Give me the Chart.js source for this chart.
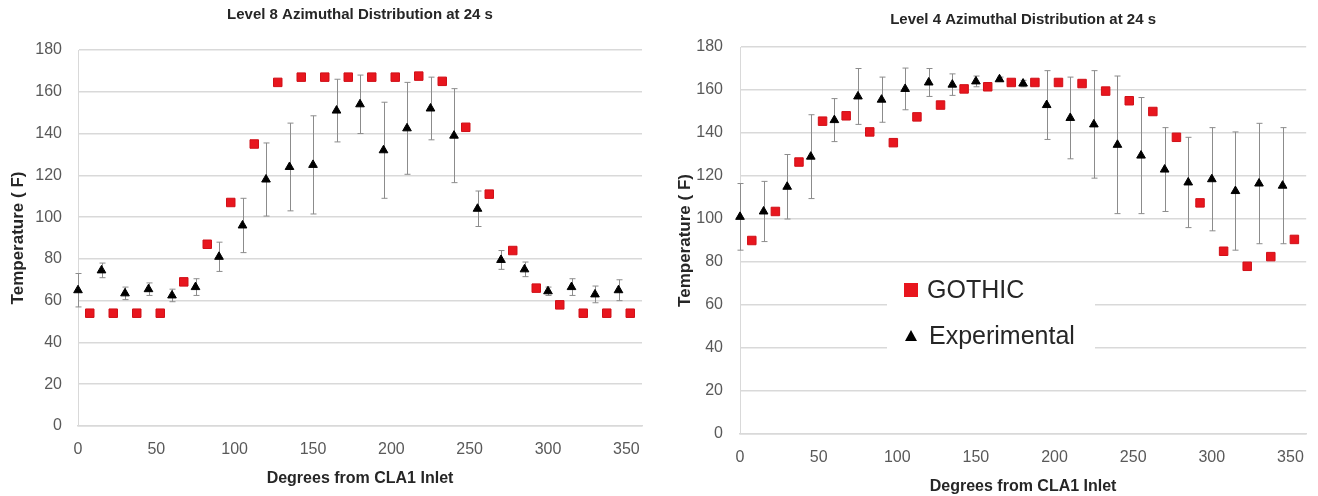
<!DOCTYPE html>
<html lang="en">
<head>
<meta charset="UTF-8">
<title>Azimuthal Distribution at 24 s</title>
<style>
  body { margin: 0; background: #fff; width: 1318px; height: 496px; overflow: hidden; position: relative; }
  canvas { position: absolute; top: 0; }
  #chartL8 { left: 0; }
  #chartL4 { left: 668px; }
</style>
</head>
<body>
<canvas id="chartL8" width="660" height="496"></canvas>
<canvas id="chartL4" width="650" height="496"></canvas>

<script src="https://cdn.jsdelivr.net/npm/chart.js"></script>
<script>
// angles (degrees from CLA1 inlet)
const gothicDeg = [7.5, 22.5, 37.5, 52.5, 67.5, 82.5, 97.5, 112.5, 127.5, 142.5, 157.5, 172.5,
                   187.5, 202.5, 217.5, 232.5, 247.5, 262.5, 277.5, 292.5, 307.5, 322.5, 337.5, 352.5];
const expDeg = [0, 15, 30, 45, 60, 75, 90, 105, 120, 135, 150, 165,
                180, 195, 210, 225, 240, 255, 270, 285, 300, 315, 330, 345];

// Level 8
const l8Gothic = [54, 54, 54, 54, 69, 87, 107, 135, 164.5, 167, 167, 167,
                  167, 167, 167.5, 165, 143, 111, 84, 66, 58, 54, 54, 54];
const l8Exp = [65, 74.5, 63.5, 65.5, 62.5, 66.5, 81, 96, 118, 124, 125, 151,
               154, 132, 142.5, 152, 139, 104, 79.5, 75, 64.5, 66.5, 63, 65];
const l8Err = [8, 3.5, 3, 3, 3, 4, 7, 13, 17.5, 21, 23.5, 15,
               14, 23, 22, 15, 22.5, 8.5, 4.5, 3.5, 2, 4, 4, 5];

// Level 4
const l4Gothic = [90, 103.5, 126.5, 145.5, 148, 140.5, 135.5, 147.5, 153, 160.5, 161.5, 163.5,
                  163.5, 163.5, 163, 159.5, 155, 150, 138, 107.5, 85, 78, 82.5, 90.5];
const l4Exp = [101, 103.5, 115, 129, 146, 157, 155.5, 160.5, 163.5, 162.5, 164, 165,
               163, 153, 147, 144, 134.5, 129.5, 123, 117, 118.5, 113, 116.5, 115.5];
const l4Err = [15.5, 14, 15, 19.5, 10, 13, 10.5, 9.7, 6.5, 5, 2.5, 1,
               1.5, 16, 19, 25, 32, 27, 19.5, 21, 24, 27.5, 28, 27];

const xTicks = [0, 50, 100, 150, 200, 250, 300, 350];

const RED = '#e8161e';
const FONT = '"Liberation Sans", Arial, sans-serif';

// title centred over the plot area
const panelTitle = {
  id: 'panelTitle',
  afterDraw(chart, args, opts) {
    const { ctx, chartArea } = chart;
    ctx.save();
    ctx.font = 'bold 15px ' + FONT;
    ctx.fillStyle = '#262626';
    ctx.textAlign = 'center';
    ctx.textBaseline = 'middle';
    ctx.fillText(opts.text, (chartArea.left + chartArea.right) / 2, opts.y);
    ctx.restore();
  }
};

// vertical error bars on the experimental series
const errorBars = {
  id: 'errorBars',
  beforeDatasetsDraw(chart, args, opts) {
    const { ctx, scales: { x, y } } = chart;
    ctx.save();
    ctx.strokeStyle = '#8c8c8c';
    ctx.lineWidth = 1;
    opts.deg.forEach((d, i) => {
      const px = Math.round(x.getPixelForValue(d)) + 0.5;
      const top = y.getPixelForValue(opts.value[i] + opts.err[i]);
      const bot = y.getPixelForValue(opts.value[i] - opts.err[i]);
      ctx.beginPath();
      ctx.moveTo(px, top); ctx.lineTo(px, bot);
      ctx.moveTo(px - 3, top); ctx.lineTo(px + 3, top);
      ctx.moveTo(px - 3, bot); ctx.lineTo(px + 3, bot);
      ctx.stroke();
    });
    ctx.restore();
  }
};

// legend box sitting inside the plot (right panel only)
const boxLegend = {
  id: 'boxLegend',
  beforeDatasetsDraw(chart, args, opts) {
    if (!opts.show) return;
    const { ctx } = chart;
    const ds = chart.data.datasets;
    const b = opts.box;
    ctx.save();
    ctx.fillStyle = '#fff';
    ctx.fillRect(b.left, b.top, b.width, b.height);

    ctx.fillStyle = RED;
    ctx.fillRect(b.left + 17, b.top + 15, 14, 14);

    ctx.fillStyle = '#000';
    ctx.beginPath();
    ctx.moveTo(b.left + 24, b.top + 62);
    ctx.lineTo(b.left + 30, b.top + 73);
    ctx.lineTo(b.left + 18, b.top + 73);
    ctx.closePath();
    ctx.fill();

    ctx.font = '25px ' + FONT;
    ctx.fillStyle = '#262626';
    ctx.textBaseline = 'middle';
    ctx.fillText(ds[0].label, b.left + 40, b.top + 23);
    ctx.fillText(ds[1].label, b.left + 42, b.top + 69);
    ctx.restore();
  }
};

function makeChart(id, c) {
  return new Chart(document.getElementById(id), {
    type: 'scatter',
    data: {
      datasets: [
        {
          label: 'GOTHIC',
          data: gothicDeg.map((d, i) => ({ x: d, y: c.gothic[i] })),
          pointStyle: 'rect',
          pointRadius: 6,
          backgroundColor: RED,
          borderColor: '#d01018',
          borderWidth: 1,
          clip: false
        },
        {
          label: 'Experimental',
          data: expDeg.map((d, i) => ({ x: d, y: c.exp[i] })),
          pointStyle: 'triangle',
          pointRadius: 5,
          backgroundColor: '#000',
          borderColor: '#000',
          borderWidth: 1,
          clip: false
        }
      ]
    },
    options: {
      responsive: false,
      animation: false,
      layout: { padding: { top: c.top, right: c.right, left: 0, bottom: 0 } },
      plugins: {
        legend: { display: false },
        tooltip: { enabled: false },
        panelTitle: { text: c.title, y: c.titleY },
        errorBars: { deg: expDeg, value: c.exp, err: c.err },
        boxLegend: { show: c.legend, box: c.legendBox }
      },
      scales: {
        x: {
          type: 'linear',
          min: 0,
          max: 360,
          afterBuildTicks: s => { s.ticks = xTicks.map(v => ({ value: v })); },
          afterFit: s => { s.height = c.xHeight; },
          ticks: { padding: 14, color: '#595959', font: { family: FONT, size: 16 }, maxRotation: 0, autoSkip: false },
          grid: { display: false, drawTicks: false },
          border: { display: true, color: '#d9d9d9', width: 1.5 },
          title: {
            display: true,
            text: 'Degrees from CLA1 Inlet',
            color: '#262626',
            font: { family: FONT, size: 16, weight: 'bold' },
            padding: { top: 0, bottom: c.xTitlePad }
          }
        },
        y: {
          min: 0,
          max: 180,
          afterFit: s => { s.width = c.yWidth; },
          ticks: { stepSize: 20, padding: c.yTickPad, color: '#595959', font: { family: FONT, size: 16 } },
          grid: { color: '#d9d9d9', lineWidth: 1.5, drawTicks: false },
          border: { display: true, color: '#d9d9d9', width: 1 },
          title: {
            display: true,
            text: 'Temperature ( F)',
            color: '#262626',
            font: { family: FONT, size: 17, weight: 'bold' },
            padding: { top: c.yTitlePad, bottom: 0 }
          }
        }
      }
    },
    plugins: [panelTitle, errorBars, boxLegend]
  });
}

makeChart('chartL8', {
  title: 'Level 8 Azimuthal Distribution at 24 s',
  gothic: l8Gothic, exp: l8Exp, err: l8Err,
  top: 50, right: 18, titleY: 15,
  xHeight: 70, xTitlePad: 8,
  yWidth: 78, yTickPad: 16, yTitlePad: 8,
  legend: false
});

makeChart('chartL4', {
  title: 'Level 4 Azimuthal Distribution at 24 s',
  gothic: l4Gothic, exp: l4Exp, err: l4Err,
  top: 47, right: 6, titleY: 20,
  xHeight: 62, xTitlePad: 0,
  yWidth: 72, yTickPad: 17, yTitlePad: 7,
  legend: true,
  legendBox: { left: 219, top: 268, width: 208, height: 97 }
});
</script>
</body>
</html>
